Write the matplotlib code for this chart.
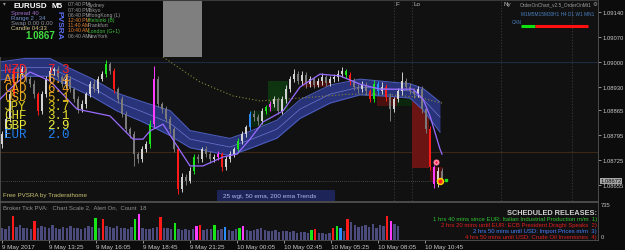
import matplotlib
matplotlib.use("Agg")
import matplotlib.pyplot as plt
import numpy as np
from matplotlib.patches import Rectangle

plt.rcParams["font.family"] = ["Liberation Sans", "DejaVu Sans"]

# EURUSD M5, prices in points (1e-5)
first_open = 108770
closes = [108798, 108840, 108910, 108980, 108966, 108980, 108952, 108938, 108910, 108863,
          108910, 108952, 108975, 108980, 108958, 108938, 108952, 108924, 108896, 108868,
          108882, 108910, 108938, 108924, 108952, 108966, 108994, 108975, 108924, 108896,
          108854, 108812, 108798, 108742, 108728, 108756, 108770, 108826, 108952, 108882,
          108868, 108840, 108812, 108756, 108644, 108678, 108667, 108695, 108734, 108728,
          108756, 108742, 108728, 108734, 108742, 108706, 108728, 108742, 108756, 108779,
          108798, 108818, 108854, 108846, 108835, 108863, 108874, 108882, 108896, 108863,
          108896, 108924, 108952, 108966, 108947, 108964, 108938, 108952, 108936, 108947,
          108958, 108941, 108952, 108958, 108966, 108975, 108964, 108947, 108930, 108924,
          108936, 108919, 108896, 108938, 108919, 108930, 108902, 108868, 108896, 108919,
          108947, 108930, 108919, 108910, 108924, 108868, 108812, 108706, 108658, 108695, 108672]
wick_up = [8, 10, 12, 6, 10, 8, 6, 9, 12, 7,
           10, 8, 12, 6, 9, 7, 10, 8, 6, 9,
           12, 7, 10, 14, 8, 10, 11, 6, 9, 7,
           10, 8, 6, 9, 7, 10, 8, 12, 36, 9,
           7, 10, 8, 6, 9, 12, 8, 10, 7, 9,
           6, 10, 8, 7, 9, 6, 8, 10, 7, 9,
           8, 6, 10, 12, 8, 9, 7, 10, 8, 6,
           9, 12, 10, 14, 8, 10, 7, 9, 6, 8,
           10, 7, 9, 8, 12, 10, 6, 8, 7, 9,
           10, 8, 6, 12, 9, 14, 8, 10, 7, 9,
           25, 8, 10, 7, 9, 8, 6, 9, 7, 12, 8]
wick_dn = [10, 8, 9, 7, 12, 6, 9, 8, 10, 12,
           8, 7, 9, 10, 6, 8, 12, 9, 7, 10,
           9, 12, 8, 7, 10, 6, 9, 8, 12, 10,
           9, 7, 10, 33, 12, 8, 9, 10, 7, 8,
           12, 9, 10, 8, 14, 9, 10, 7, 8, 12,
           9, 8, 10, 7, 9, 12, 8, 9, 7, 10,
           8, 9, 7, 10, 12, 8, 9, 10, 7, 9,
           8, 10, 7, 9, 8, 12, 10, 8, 9, 7,
           10, 8, 9, 7, 10, 8, 9, 12, 8, 10,
           9, 12, 8, 7, 10, 8, 12, 33, 9, 8,
           10, 9, 8, 12, 9, 10, 12, 8, 10, 9, 8]
# n normal, r/g climax, m/b rising volume
bar_kind = list("nnnrnnnnnr" "nnnnnnnnnn" "nnnnnngnrn" "nnnnnnngmn" "nnnnrnnngn"
                "nnnnmrnnng" "nnbnnngmnn" "nnnnnnnnnn" "nnnnnngrnn" "nnrgbnrnnn" "nnnnnnnrmnn")
tick_volume = [260, 240, 300, 520, 280, 330, 250, 270, 240, 420,
               260, 300, 280, 250, 320, 270, 240, 280, 260, 300,
               250, 270, 240, 260, 300, 280, 480, 260, 450, 300,
               280, 250, 300, 270, 260, 240, 280, 460, 560, 260,
               240, 230, 260, 280, 500, 270, 250, 230, 360, 240,
               220, 240, 210, 230, 300, 320, 220, 240, 230, 330,
               210, 230, 280, 220, 200, 230, 260, 300, 220, 200,
               210, 230, 250, 220, 200, 190, 210, 180, 200, 190,
               170, 190, 160, 180, 170, 160, 220, 240, 150, 160,
               140, 150, 250, 300, 260, 200, 450, 380, 320, 290,
               300, 330, 280, 350, 260, 330, 300, 520, 400, 340, 300]

# trend ribbon (50 ema) and fast line (25 wgt), slow 200 ema
band_x = [0, 25, 50, 67, 93, 117, 143, 170, 190, 230, 250, 277, 300, 330, 360, 390, 410, 423, 440]
band_mid = [108975, 108985, 108985, 108961, 108927, 108888, 108860, 108829, 108784, 108762,
            108782, 108812, 108868, 108910, 108930, 108924, 108919, 108896, 108846]
band_half = [25, 25, 25, 25, 25, 25, 28, 35, 24, 24, 24, 25, 26, 25, 22, 20, 20, 30, 42]
fast_x = [0, 15, 30, 50, 77, 110, 133, 143, 150, 163, 177, 190, 203, 223, 237, 250, 263, 283,
          300, 320, 340, 360, 380, 400, 413, 423, 430, 440, 442]
fast_p = [108896, 108938, 108972, 108947, 108868, 108849, 108784, 108784, 108807, 108826,
          108765, 108709, 108709, 108734, 108742, 108784, 108832, 108863, 108930, 108966,
          108961, 108938, 108924, 108924, 108924, 108896, 108849, 108756, 108742]
slow_x = [163, 200, 233, 260, 300, 350, 383, 417, 442]
slow_p = [109014, 108944, 108905, 108891, 108899, 108910, 108910, 108902, 108885]

zone_x0 = [250, 268, 303, 377, 397, 412, 430]
zone_x1 = [270, 288, 330, 397, 413, 429, 443]
zone_top = [108863, 108947, 108947, 108910, 108896, 108896, 108706]
zone_bot = [108818, 108863, 108930, 108877, 108877, 108703, 108667]
zone_col = ["#0a260c", "#0e3410", "#4a1010", "#4a1010", "#0a260c", "#6a1414", "#4a1010"]

price_ticks = [1.09140, 1.09070, 1.09000, 1.08930, 1.08865, 1.08795, 1.08725, 1.08655]
last_price = 1.08672
time_labels = ["9 May 2017", "9 May 13:25", "9 May 16:05", "9 May 18:45", "9 May 21:25",
               "10 May 00:05", "10 May 02:45", "10 May 05:25", "10 May 08:05", "10 May 10:45"]
currencies = ["NZD", "AUD", "CAD", "USD", "JPY", "CHF", "GBP", "EUR"]
strength = [7.3, 6.4, 6.4, 5.1, 3.7, 3.1, 2.9, 2.0]
cur_colours = ["#ff2020", "#f09a20", "#f0a020", "#e8b020", "#e0d020", "#e8e030", "#f0f040", "#2080f0"]
sessions = [("07:40 PM", "Sydney"), ("07:40 PM", "Tokyo"), ("06:40 PM", "HongKong (L)"),
            ("12:40 PM", "Helsinki (B)"), ("11:40 AM", "Frankfurt"), ("10:40 AM", "London (G+1)"),
            ("06:40 AM", "NewYork")]
session_cols = [("#9a9a9a", "#9a9a9a"), ("#9a9a9a", "#9a9a9a"), ("#9a9a9a", "#9a9a9a"),
                ("#e08030", "#40c040"), ("#e08030", "#9a9a9a"), ("#e08030", "#40c040"),
                ("#9a9a9a", "#9a9a9a")]
releases = ["1 hrs 40 mins since EUR: Italian Industrial Production m/m  1)",
            "2 hrs 20 mins until EUR: ECB President Draghi Speaks  2)",
            "2 hrs 50 mins until USD: Import Prices m/m  3)",
            "4 hrs 50 mins until USD: Crude Oil Inventories  4)"]
release_cols = ["#30c030", "#e02020", "#4a80ff", "#e02020"]

kind_colours = {"r": "#ff1a1a", "g": "#19e619", "m": "#ff3cff", "b": "#2a8cff"}
BG = "#111111"
W, H = 625, 251
pt = 1e-5

fig = plt.figure(figsize=(6.25, 2.51), dpi=100, facecolor="#0c0c0c")


def px_axes(x0, y0, x1, y1, **kw):
    return fig.add_axes([x0 / W, 1 - y1 / H, (x1 - x0) / W, (y1 - y0) / H], **kw)


ax = px_axes(0, 0, 598, 202)
vax = px_axes(0, 203, 598, 241)
for a in (ax, vax):
    a.set_facecolor(BG)
    for s in a.spines.values():
        s.set_color("#555555")
        s.set_linewidth(0.6)
    a.set_xlim(0, 598)

ax.set_ylim(1.09 - 139 * 2.8e-5, 1.09 + 63 * 2.8e-5)

# candles
c = np.array(closes) * pt
o = np.concatenate([[first_open * pt], c[:-1]])
hi = np.maximum(o, c) + np.array(wick_up) * pt
lo = np.minimum(o, c) - np.array(wick_dn) * pt
xs = np.arange(len(c)) * 4 + 2
cols = []
for k, oo, cc in zip(bar_kind, o, c):
    if k == "n":
        cols.append("#d2d2d2" if cc >= oo else "#7a7a7a")
    else:
        cols.append(kind_colours[k])

# zones and lines under the candles
for x0, x1, t, b, col in zip(zone_x0, zone_x1, zone_top, zone_bot, zone_col):
    ax.add_patch(Rectangle((x0, b * pt), x1 - x0, (t - b) * pt, color=col, lw=0, zorder=1))

ax.axhline(1.09000, color="#1d2a42", lw=0.8, zorder=0.5)
ax.axhline(1.08748, color="#3a2818", lw=0.8, zorder=0.5)
ax.plot([0, 445], [1.08667, 1.08667], color="#5a5a5a", lw=0.6, ls=(0, (1, 1.5)), zorder=0.5)
for vx in [394, 412, 501, 572]:
    ax.axvline(vx, color="#3c3c3c", lw=0.6, ls=(0, (1.5, 2)), zorder=0.5)

bm = np.array(band_mid) * pt
bh = np.array(band_half) * pt
ax.fill_between(band_x, bm - bh, bm + bh, color="#29337a", lw=0, zorder=1.5)
ax.plot(band_x, bm - bh, color="#4a5ab8", lw=0.8, zorder=1.6)
ax.plot(band_x, bm + bh, color="#4a5ab8", lw=0.8, zorder=1.6)
ax.plot(band_x, bm, color="#6a78d0", lw=0.5, zorder=1.6)
ax.plot(slow_x, np.array(slow_p) * pt, color="#8a8a38", lw=0.8, ls=(0, (1, 2)), zorder=1.7)

ax.vlines(xs, lo, hi, colors=cols, lw=0.7, zorder=3)
body = np.maximum(np.abs(c - o), 0.6 * pt)
ax.bar(xs, body, bottom=np.minimum(o, c), width=2.4, color=cols, lw=0, zorder=3)

ax.plot(fast_x, np.array(fast_p) * pt, color="#9a6cff", lw=0.9, zorder=4)

ax.plot(436, 1.08720, "o", ms=3.6, mfc="white", mec="#ff6a8a", mew=0.8, zorder=5)
ax.plot(436, 1.08720, "o", ms=1.2, color="#ff3060", zorder=6)
ax.plot(440, 1.08667, "o", ms=4.2, mfc="#ff2020", mec="#ffd000", mew=1.1, zorder=5)
ax.plot(446, 1.08670, "s", ms=1.6, color="#20e020", zorder=5)

ax.yaxis.tick_right()
ax.set_yticks(price_ticks)
ax.set_yticklabels([f"{p:.5f}" for p in price_ticks])
ax.tick_params(axis="y", colors="#c8c8c8", labelsize=4.2, length=2, width=0.5, pad=1)
ax.set_xticks([])

# volume panel
vx = np.arange(len(tick_volume)) * 3.6 + 2
vcols = ["#4b4b7d" if k == "n" else kind_colours[k] for k in bar_kind]
vax.bar(vx, tick_volume, width=2.4, color=vcols, lw=0)
vax.set_ylim(0, 735 * 38 / 34)
vax.set_yticks([])
tick_pos = [2 + 47 * i for i in range(len(time_labels))]
vax.set_xticks(tick_pos)
vax.set_xticklabels(time_labels, ha="left")
vax.tick_params(axis="x", colors="#c8c8c8", labelsize=4.5, length=2, width=0.5, pad=1)

# overlay in pixel coords
ov = fig.add_axes([0, 0, 1, 1], zorder=5)
ov.set_xlim(0, W)
ov.set_ylim(H, 0)
ov.axis("off")

ov.add_patch(Rectangle((0, 0), 163, 58, color="#0a0a0a", lw=0))
ov.add_patch(Rectangle((163, 0), 39, 58, color="#7f7f7f", lw=0))
ov.plot([0, 598], [0.8, 0.8], color="#3a3a3a", lw=0.8)

ov.text(13, 6.5, "EURUSD", color="white", fontsize=5.8, fontweight="bold", va="center")
ov.text(51, 6.5, "M5", color="white", fontsize=5.8, fontweight="bold", va="center")
ov.text(3, 4, "▾", color="#9a9a9a", fontsize=4, va="center", family="DejaVu Sans")
ov.text(11, 13, "Spread 40", color="#a070d0", fontsize=4.3, va="center")
ov.text(11, 18.5, "Range 2 . 34", color="#7090d0", fontsize=4.3, va="center")
ov.text(11, 24, "Swap 0.00 0.00", color="#9090a0", fontsize=4.3, va="center")
ov.text(11, 29, "Candle 04:33", color="#d8c890", fontsize=4.3, va="center")
ov.text(25, 36, "1.0867", color="#40e040", fontsize=7, fontweight="bold", va="center")
ov.text(59, 25, "PVSRA", color="#5a6ef0", fontsize=6, fontweight="bold",
        rotation=-90, ha="center", va="center")
for k, ((t, name), (c1, c2)) in enumerate(zip(sessions, session_cols)):
    y = 5 + 5.2 * k
    ov.text(68, y, t, color=c1, fontsize=3.7, va="center")
    ov.text(88, y, name, color=c2, fontsize=3.7, va="center")

for k, (cur, val, col) in enumerate(zip(currencies, strength, cur_colours)):
    y = 70.5 + 9.2 * k
    ov.text(4, y, cur, color=col, fontsize=9, family="Liberation Mono", va="center")
    ov.text(47, y, f"{val:.1f}", color=col, fontsize=9, family="Liberation Mono", va="center")

ov.text(396, 4.5, "F", color="#c0c0c0", fontsize=4.5, va="center")
ov.text(414, 4.5, "Lo", color="#c0c0c0", fontsize=4.5, va="center")
ov.text(503, 4.5, "Ny", color="#c0c0c0", fontsize=4.5, va="center")
ov.text(520, 5, "OrderOnChart_v2.5_OrderOnMt1", color="#a0a0a0", fontsize=3.4, va="center")
ov.text(593, 5, "⚙", color="#a0a0a0", fontsize=4, va="center", family="DejaVu Sans")
ov.text(521, 14, "M1M5M15M30H1 H4 D1 W1 MN1", color="#4a80c0", fontsize=3.4, va="center")
ov.text(512, 22, "CAN", color="#4a80c0", fontsize=3.4, va="center")
ov.plot([521, 535], [27, 27], color="#10e010", lw=2.2, solid_capstyle="butt")
ov.plot([535, 588], [27, 27], color="#ff1010", lw=2.2, solid_capstyle="butt")

ov.text(600.5, 182, f"{last_price:.5f}", color="#101010", fontsize=4.2, va="center",
        bbox=dict(boxstyle="square,pad=0.12", fc="#a8a8a8", ec="none"))

ov.text(3, 196, "Free PVSRA by Traderathome", color="#c8c070", fontsize=4.5, va="center")
ov.add_patch(Rectangle((217, 191), 118, 11, color="#1c2458", lw=0))
ov.text(223, 196.5, "25 wgt, 50 ema, 200 ema Trends", color="#b0b8f0", fontsize=4.6, va="center")

ov.text(3, 207.5, "Broker Tick PVA:   Chart Scale 2,  Alert On,  Count  18",
        color="#909090", fontsize=4.3, va="center")
ov.text(601, 206, "735", color="#c0c0c0", fontsize=4.2, va="center")
ov.text(601, 238, "0", color="#c0c0c0", fontsize=4.2, va="center")
ov.text(597, 213.5, "SCHEDULED RELEASES:", color="#d0d0d0", fontsize=5.3,
        fontweight="bold", ha="right", va="center")
for k, (txt, col) in enumerate(zip(releases, release_cols)):
    ov.text(597, 219.5 + 6 * k, txt, color=col, fontsize=4.3, ha="right", va="center")

fig.savefig("out.png", dpi=100, facecolor=fig.get_facecolor())
